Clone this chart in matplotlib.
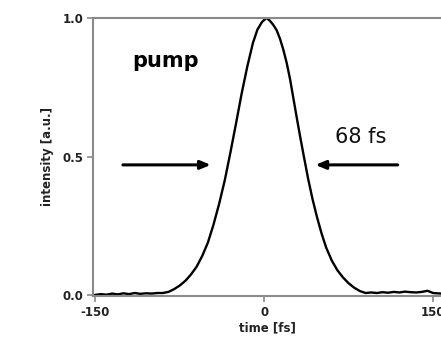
import matplotlib
matplotlib.use("Agg")
import matplotlib.pyplot as plt

# time [fs] and intensity [a.u.]
time_fs = [-152, -145, -140, -135, -130, -125, -120, -115, -110, -105, -100, -95, -90,
           -85, -80, -75, -70, -65, -60, -55, -50, -45, -40, -35, -30, -25, -20, -15,
           -10, -6, -2, 2, 5, 8, 11, 14, 17, 20, 23, 26, 29, 32, 35, 39, 43, 47, 51,
           55, 60, 65, 70, 75, 80, 85, 90, 95, 100, 105, 110, 115, 120, 125, 130,
           135, 140, 145, 150, 157]
intensity = [0.000, 0.004, 0.002, 0.006, 0.003, 0.007, 0.004, 0.008, 0.005, 0.007, 0.006,
             0.008, 0.008, 0.012, 0.022, 0.035, 0.052, 0.075, 0.103, 0.142, 0.190, 0.255,
             0.330, 0.415, 0.515, 0.620, 0.728, 0.825, 0.910, 0.958, 0.985, 1.000, 0.990,
             0.975, 0.956, 0.925, 0.885, 0.837, 0.778, 0.708, 0.638, 0.570, 0.505, 0.420,
             0.345, 0.280, 0.222, 0.172, 0.125, 0.090, 0.064, 0.043, 0.027, 0.015, 0.008,
             0.010, 0.008, 0.011, 0.009, 0.012, 0.010, 0.013, 0.011, 0.010, 0.012, 0.016,
             0.008, 0.006]

x_ticks = [-150, 0, 150]
y_ticks = [0.0, 0.5, 1.0]
y_ticklabels = ["0.0", "0.5", "1.0"]
x_ticklabels = ["-150", "0", "150"]

fig = plt.figure(figsize=(4.41, 3.58), dpi=100)
ax = fig.add_axes([0.211, 0.173, 0.789, 0.777])

ax.plot(time_fs, intensity, color="black", lw=1.7)
ax.set_xlim(-152, 157)
ax.set_ylim(-0.003, 1.0)

for s in ["left", "top", "bottom"]:
    ax.spines[s].set_color("#8a8a8a")
    ax.spines[s].set_linewidth(1.5)
ax.spines["right"].set_visible(False)

ax.set_xticks(x_ticks)
ax.set_xticklabels(x_ticklabels)
ax.set_yticks(y_ticks)
ax.set_yticklabels(y_ticklabels)
ax.tick_params(direction="out", length=4, width=1.2, color="#8a8a8a",
               labelsize=8.5, labelcolor="#222222", pad=3)
for lab in ax.get_xticklabels() + ax.get_yticklabels():
    lab.set_fontweight("bold")

ax.set_xlabel("time [fs]", fontsize=8.5, fontweight="bold", color="#222222", labelpad=2)
ax.set_ylabel("intensity [a.u.]", fontsize=8.5, fontweight="bold", color="#222222", labelpad=6)

arrow_kw = dict(arrowstyle="-|>,head_length=0.6,head_width=0.25", color="black", lw=2.2)
ax.annotate("", xy=(-45, 0.47), xytext=(-128, 0.47), arrowprops=arrow_kw)
ax.annotate("", xy=(43, 0.47), xytext=(121, 0.47), arrowprops=arrow_kw)

ax.text(-117, 0.845, "pump", fontsize=15, fontweight="bold", va="center", ha="left")
ax.text(63, 0.57, "68 fs", fontsize=15, va="center", ha="left", color="#111111")

fig.savefig("out.png", dpi=100)
